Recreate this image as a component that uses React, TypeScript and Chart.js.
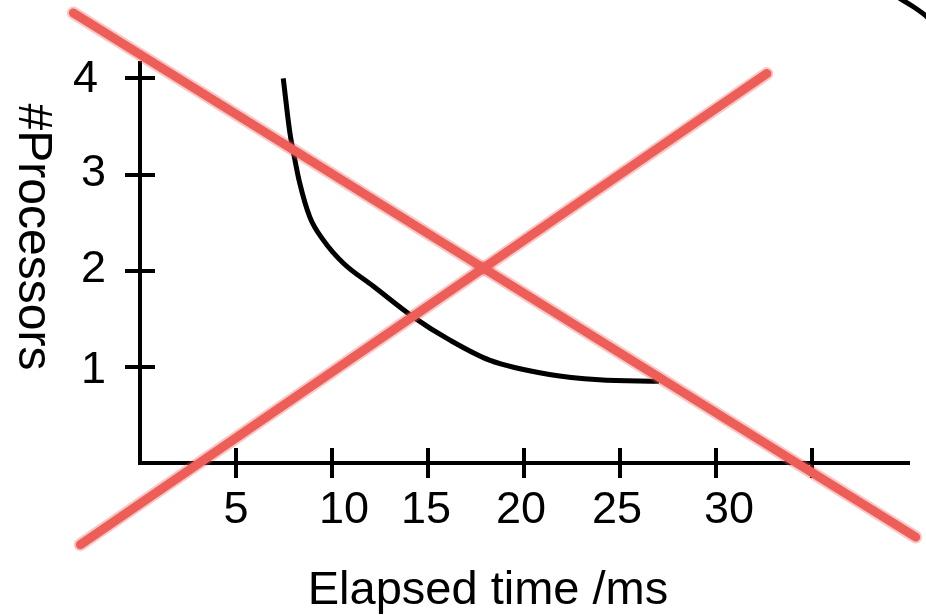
import React, { useEffect, useRef } from "react";
import { Chart, registerables } from "chart.js";

Chart.register(...registerables);

// ---- data ----
const X_TICKS = [5, 10, 15, 20, 25, 30, 35];
const X_TICK_LABELS = ["5", "10", "15", "20", "25", "30", ""];
const Y_TICKS = [1, 2, 3, 4];
const Y_TICK_LABELS = ["1", "2", "3", "4"];

const CURVE_X = [7.46, 7.81, 8.07, 8.32, 8.84, 9.54, 10.58, 12.14, 14.22, 16.12, 18.2, 21.32, 23.91, 27.03];
const CURVE_Y = [4.0, 3.43, 3.15, 2.91, 2.56, 2.32, 2.08, 1.84, 1.52, 1.28, 1.07, 0.92, 0.865, 0.85];

const CROSS_A_X = [-3.47, 40.4];
const CROSS_A_Y = [4.68, -0.77];
const CROSS_B_X = [-3.11, 32.65];
const CROSS_B_Y = [-0.85, 4.05];

// arc in the top-right corner, traced from its lower-right end upwards
const ARC_X = [41.3, 40.87, 40.24, 39.67, 39.2];
const ARC_Y = [4.58, 4.66, 4.75, 4.82, 4.88];

const X_TITLE = "Elapsed time /ms";
const Y_TITLE = "#Processors";

// small hand-placed label nudges seen in the reference (pixels)
const X_LABEL_DX = [0, 12, -2, -3, -3, 13, 0];
const Y_LABEL_DX = [0, 0, 0, -8];
const Y_LABEL_DY = [4, -1, -1, 1];

const FONT = "'Liberation Sans', Arial, Helvetica, sans-serif";
const RED = "rgb(237,94,88)";
const RED_SOFT = "rgba(237,94,88,0.35)";

const toPts = (xs: number[], ys: number[]) => xs.map((x, i) => ({ x, y: ys[i] }));

const decor = {
  id: "decor",
  beforeDraw(chart: any) {
    const xs = chart.scales.x;
    const ys = chart.scales.y;
    xs.getLabelItems().forEach((it: any, i: number) => {
      if (it._nudged) return;
      it._nudged = true;
      it.options.translation[0] += X_LABEL_DX[i] || 0;
    });
    ys.getLabelItems().forEach((it: any, i: number) => {
      if (it._nudged) return;
      it._nudged = true;
      it.options.translation[0] += Y_LABEL_DX[i] || 0;
      it.options.translation[1] += Y_LABEL_DY[i] || 0;
    });
  },
  beforeDatasetsDraw(chart: any) {
    const { ctx, chartArea, scales } = chart;
    const x = scales.x;
    const y = scales.y;
    ctx.save();
    ctx.strokeStyle = "#000";
    ctx.lineWidth = 4;
    ctx.beginPath();
    for (const v of X_TICKS) {
      const px = Math.round(x.getPixelForValue(v));
      ctx.moveTo(px, chartArea.bottom);
      ctx.lineTo(px, chartArea.bottom - 15);
    }
    for (const v of Y_TICKS) {
      const py = Math.round(y.getPixelForValue(v));
      ctx.moveTo(chartArea.left, py);
      ctx.lineTo(chartArea.left + 15, py);
    }
    ctx.stroke();
    ctx.restore();
  },
  afterDraw(chart: any) {
    const { ctx } = chart;
    ctx.save();
    ctx.fillStyle = "#000";
    ctx.font = `47px ${FONT}`;
    ctx.textAlign = "center";
    ctx.textBaseline = "alphabetic";
    ctx.fillText(X_TITLE, 488, 604);
    ctx.font = `48px ${FONT}`;
    ctx.translate(19, 237);
    ctx.rotate(Math.PI / 2);
    ctx.fillText(Y_TITLE, 0, 0);
    ctx.restore();
  },
};

export default function App() {
  const ref = useRef<HTMLCanvasElement | null>(null);

  useEffect(() => {
    if (!ref.current) return;
    const redLine = (xs: number[], ys: number[], soft: boolean) => ({
      data: toPts(xs, ys),
      borderColor: soft ? RED_SOFT : RED,
      borderWidth: soft ? 13 : 9,
      borderCapStyle: "round",
      pointRadius: 0,
      clip: false,
      order: 0,
    });
    const chart = new Chart(ref.current, {
      type: "line",
      data: {
        datasets: [
          redLine(CROSS_A_X, CROSS_A_Y, false),
          redLine(CROSS_B_X, CROSS_B_Y, false),
          redLine(CROSS_A_X, CROSS_A_Y, true),
          redLine(CROSS_B_X, CROSS_B_Y, true),
          {
            data: toPts(CURVE_X, CURVE_Y),
            borderColor: "#000",
            borderWidth: 5,
            pointRadius: 0,
            cubicInterpolationMode: "monotone",
            clip: false,
            order: 1,
          },
          {
            data: toPts(ARC_X, ARC_Y),
            borderColor: "#000",
            borderWidth: 5,
            pointRadius: 0,
            tension: 0.3,
            clip: false,
            order: 2,
          },
        ] as any,
      },
      options: {
        animation: false,
        events: [],
        responsive: true,
        maintainAspectRatio: false,
        layout: { padding: { top: 63, right: 18, left: 0, bottom: 0 } },
        plugins: { legend: { display: false }, tooltip: { enabled: false } },
        scales: {
          x: {
            type: "linear",
            position: "bottom",
            min: 0,
            max: 40,
            afterBuildTicks: (s: any) => {
              s.ticks = X_TICKS.map((v) => ({ value: v }));
            },
            afterFit: (s: any) => {
              s.height = 152;
              s.paddingLeft = 0;
              s.paddingRight = 0;
            },
            border: { display: true, color: "#000", width: 4 },
            grid: {
              drawOnChartArea: false,
              drawTicks: true,
              tickLength: 15,
              tickWidth: 4,
              tickColor: "#000",
              color: "#000",
              lineWidth: 4,
            },
            ticks: {
              autoSkip: false,
              maxRotation: 0,
              padding: 6,
              color: "#000",
              font: { family: FONT, size: 45 },
              callback: (_v: any, i: number) => X_TICK_LABELS[i],
            },
          },
          y: {
            type: "linear",
            position: "left",
            min: 0,
            max: 4.16,
            afterBuildTicks: (s: any) => {
              s.ticks = Y_TICKS.map((v) => ({ value: v }));
            },
            afterFit: (s: any) => {
              s.width = 140;
              s.paddingTop = 0;
              s.paddingBottom = 0;
            },
            border: { display: true, color: "#000", width: 4 },
            grid: {
              drawOnChartArea: false,
              drawTicks: true,
              tickLength: 15,
              tickWidth: 4,
              tickColor: "#000",
              color: "#000",
              lineWidth: 4,
            },
            ticks: {
              autoSkip: false,
              padding: 19,
              color: "#000",
              font: { family: FONT, size: 45 },
              callback: (_v: any, i: number) => Y_TICK_LABELS[i],
            },
          },
        },
      } as any,
      plugins: [decor],
    });
    return () => chart.destroy();
  }, []);

  return (
    <div
      style={{
        position: "absolute",
        left: 0,
        top: 0,
        width: 926,
        height: 615,
        background: "#fff",
      }}
    >
      <canvas ref={ref} />
    </div>
  );
}
